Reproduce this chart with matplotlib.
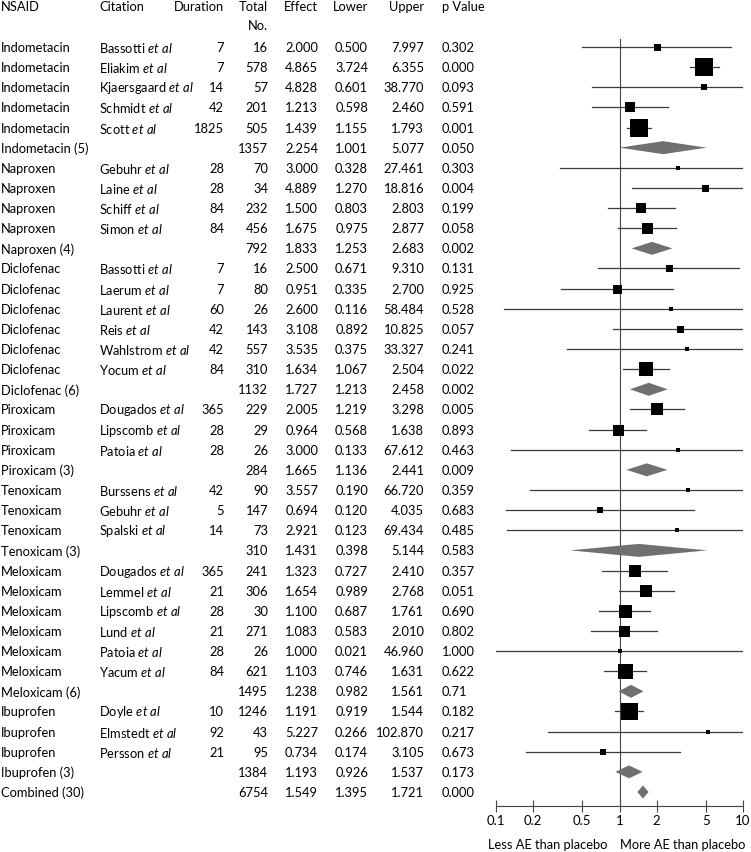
import matplotlib
matplotlib.use("Agg")
import matplotlib.pyplot as plt
import matplotlib.transforms as mtransforms

plt.rcParams['font.family'] = ['Lato', 'DejaVu Sans']
plt.rcParams['mathtext.fontset'] = 'custom'
plt.rcParams['mathtext.rm'] = 'Lato'
plt.rcParams['mathtext.it'] = 'Lato:italic'

# table data, one entry per row
nsaid = ["Indometacin"] * 5 + ["Indometacin (5)"] + ["Naproxen"] * 4 + ["Naproxen (4)"] \
    + ["Diclofenac"] * 6 + ["Diclofenac (6)"] + ["Piroxicam"] * 3 + ["Piroxicam (3)"] \
    + ["Tenoxicam"] * 3 + ["Tenoxicam (3)"] + ["Meloxicam"] * 6 + ["Meloxicam (6)"] \
    + ["Ibuprofen"] * 3 + ["Ibuprofen (3)", "Combined (30)"]
citation = ["Bassotti", "Eliakim", "Kjaersgaard", "Schmidt", "Scott", "",
            "Gebuhr", "Laine", "Schiff", "Simon", "",
            "Bassotti", "Laerum", "Laurent", "Reis", "Wahlstrom", "Yocum", "",
            "Dougados", "Lipscomb", "Patoia", "",
            "Burssens", "Gebuhr", "Spalski", "",
            "Dougados", "Lemmel", "Lipscomb", "Lund", "Patoia", "Yacum", "",
            "Doyle", "Elmstedt", "Persson", "", ""]
duration = ["7", "7", "14", "42", "1825", "",
            "28", "28", "84", "84", "",
            "7", "7", "60", "42", "42", "84", "",
            "365", "28", "28", "",
            "42", "5", "14", "",
            "365", "21", "28", "21", "28", "84", "",
            "10", "92", "21", "", ""]
total = [16, 578, 57, 201, 505, 1357,
         70, 34, 232, 456, 792,
         16, 80, 26, 143, 557, 310, 1132,
         229, 29, 26, 284,
         90, 147, 73, 310,
         241, 306, 30, 271, 26, 621, 1495,
         1246, 43, 95, 1384, 6754]
effect = [2.000, 4.865, 4.828, 1.213, 1.439, 2.254,
          3.000, 4.889, 1.500, 1.675, 1.833,
          2.500, 0.951, 2.600, 3.108, 3.535, 1.634, 1.727,
          2.005, 0.964, 3.000, 1.665,
          3.557, 0.694, 2.921, 1.431,
          1.323, 1.654, 1.100, 1.083, 1.000, 1.103, 1.238,
          1.191, 5.227, 0.734, 1.193, 1.549]
lower = [0.500, 3.724, 0.601, 0.598, 1.155, 1.001,
         0.328, 1.270, 0.803, 0.975, 1.253,
         0.671, 0.335, 0.116, 0.892, 0.375, 1.067, 1.213,
         1.219, 0.568, 0.133, 1.136,
         0.190, 0.120, 0.123, 0.398,
         0.727, 0.989, 0.687, 0.583, 0.021, 0.746, 0.982,
         0.919, 0.266, 0.174, 0.926, 1.395]
upper = [7.997, 6.355, 38.770, 2.460, 1.793, 5.077,
         27.461, 18.816, 2.803, 2.877, 2.683,
         9.310, 2.700, 58.484, 10.825, 33.327, 2.504, 2.458,
         3.298, 1.638, 67.612, 2.441,
         66.720, 4.035, 69.434, 5.144,
         2.410, 2.768, 1.761, 2.010, 46.960, 1.631, 1.561,
         1.544, 102.870, 3.105, 1.537, 1.721]
pvalue = ["0.302", "0.000", "0.093", "0.591", "0.001", "0.050",
          "0.303", "0.004", "0.199", "0.058", "0.002",
          "0.131", "0.925", "0.528", "0.057", "0.241", "0.022", "0.002",
          "0.005", "0.893", "0.463", "0.009",
          "0.359", "0.683", "0.485", "0.583",
          "0.357", "0.051", "0.690", "0.802", "1.000", "0.622", "0.71",
          "0.182", "0.217", "0.673", "0.173", "0.000"]
# box side (px) per study
box = [7, 18, 6, 10, 18, 0,
       5, 7, 10, 11, 0,
       7, 9, 4.5, 7, 5, 14, 0,
       12, 11, 5, 0,
       4.5, 6, 4.5, 0,
       12, 12, 13, 11, 4, 15, 0,
       17, 4.5, 6, 0, 0]

W, H = 751, 853
fig = plt.figure(figsize=(W / 100, H / 100), dpi=100)

# geometry in pixels
x0, x1 = 496, 743
y_top, y_axis = 40, 807
row0, rowN = 48, 793
n = len(nsaid)
d = (rowN - row0) / (n - 1)
ylo = -(row0 - y_top) / d
yhi = (n - 1) + (y_axis - rowN) / d

ax = fig.add_axes([x0 / W, (H - y_axis) / H, (x1 - x0) / W, (y_axis - y_top) / H])
ax.set_xscale('log')
ax.set_xlim(0.1, 10)
ax.set_ylim(yhi, ylo)
for s in ['top', 'right', 'left']:
    ax.spines[s].set_visible(False)
ax.spines['bottom'].set_color('#444444')
ax.spines['bottom'].set_linewidth(0.8)
ax.set_yticks([])
ticks = [0.1, 0.2, 0.5, 1, 2, 5, 10]
ax.set_xticks(ticks)
ax.set_xticklabels(['0.1', '0.2', '0.5', '1', '2', '5', '10'])
ax.minorticks_off()
ax.tick_params(axis='x', direction='inout', length=8, width=0.8, color='#444444',
               labelsize=9.5, pad=2)
ax.axvline(1, color='#444444', lw=0.8, zorder=1)

dh = 6.5 / d
for i in range(n):
    if citation[i] == "":
        ax.fill([lower[i], effect[i], upper[i], effect[i]],
                [i, i - dh, i, i + dh], color='#707070', lw=0, zorder=3)
    else:
        ax.plot([lower[i], upper[i]], [i, i], color='#3a3a3a', lw=0.9, zorder=2)
        ax.scatter([effect[i]], [i], marker='s', s=(box[i] * 0.72) ** 2,
                   color='black', lw=0, zorder=4)

# table text
tr = mtransforms.blended_transform_factory(fig.transFigure, ax.transData)
fs = 9.3
hy1 = (7 - row0) / d
hy2 = (26 - row0) / d
hdr = [("NSAID", 1, 'left'), ("Citation", 99, 'left'), ("Duration", 224, 'right'),
       ("Total", 268, 'right'), ("Effect", 318, 'right'), ("Lower", 368, 'right'),
       ("Upper", 424, 'right'), ("p Value", 442, 'left')]
for t, x, ha in hdr:
    ax.text(x / W, hy1, t, transform=tr, ha=ha, va='center', fontsize=fs)
ax.text(268 / W, hy2, "No.", transform=tr, ha='right', va='center', fontsize=fs)

for i in range(n):
    ax.text(1 / W, i, nsaid[i], transform=tr, ha='left', va='center', fontsize=fs)
    if citation[i]:
        ax.text(99 / W, i, citation[i] + r" $\mathit{et\ al}$", transform=tr,
                ha='left', va='center', fontsize=fs)
    ax.text(224 / W, i, duration[i], transform=tr, ha='right', va='center', fontsize=fs)
    ax.text(268 / W, i, str(total[i]), transform=tr, ha='right', va='center', fontsize=fs)
    ax.text(318 / W, i, f"{effect[i]:.3f}", transform=tr, ha='right', va='center', fontsize=fs)
    ax.text(368 / W, i, f"{lower[i]:.3f}", transform=tr, ha='right', va='center', fontsize=fs)
    ax.text(424 / W, i, f"{upper[i]:.3f}", transform=tr, ha='right', va='center', fontsize=fs)
    ax.text(442 / W, i, pvalue[i], transform=tr, ha='left', va='center', fontsize=fs)

fig.text(548 / W, 1 - 845 / H, "Less AE than placebo", ha='center', va='center', fontsize=fs)
fig.text(683 / W, 1 - 845 / H, "More AE than placebo", ha='center', va='center', fontsize=fs)

fig.savefig("out.png", dpi=100)
